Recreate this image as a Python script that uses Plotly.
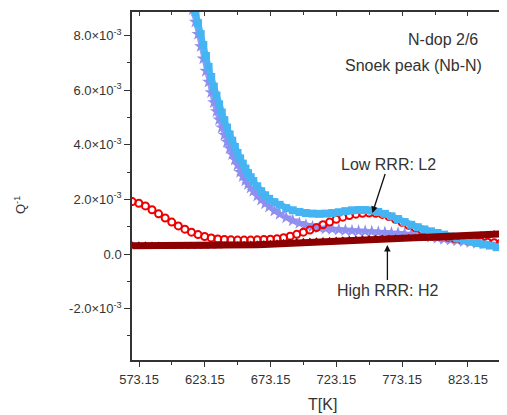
import plotly.graph_objects as go

# ---- data ----
T_red = [568, 573, 578, 583, 588, 593, 598, 603, 608, 613, 618, 623, 628, 633, 638, 643, 648, 653, 658, 663,
         668, 673, 678, 683, 688, 693, 698, 703, 708, 713, 718, 723, 728, 733, 738, 743, 748, 753, 758, 763,
         768, 773, 778, 783, 788, 793, 798, 803, 808, 813, 818, 823, 828, 833, 838, 843, 848, 853]
Q_red = [1.92, 1.86, 1.76, 1.62, 1.47, 1.32, 1.17, 1.03, 0.91, 0.80, 0.71, 0.64, 0.59, 0.55, 0.53, 0.52, 0.51, 0.51, 0.51, 0.52,
         0.53, 0.54, 0.56, 0.60, 0.65, 0.72, 0.80, 0.88, 0.97, 1.07, 1.17, 1.27, 1.35, 1.41, 1.46, 1.49, 1.50, 1.49, 1.45, 1.37,
         1.27, 1.16, 1.05, 0.96, 0.88, 0.80, 0.72, 0.66, 0.61, 0.57, 0.53, 0.50, 0.47, 0.45, 0.43, 0.41, 0.40, 0.39]

T_dark = T_red
Q_dark = [0.30, 0.30, 0.30, 0.29, 0.29, 0.28, 0.28, 0.28, 0.28, 0.28, 0.28, 0.28, 0.29, 0.29, 0.30, 0.30, 0.31, 0.32, 0.33, 0.34,
          0.35, 0.36, 0.38, 0.39, 0.40, 0.42, 0.43, 0.44, 0.45, 0.46, 0.47, 0.48, 0.49, 0.50, 0.51, 0.52, 0.53, 0.54, 0.55, 0.55,
          0.56, 0.56, 0.57, 0.57, 0.57, 0.58, 0.58, 0.59, 0.60, 0.61, 0.62, 0.63, 0.65, 0.67, 0.69, 0.71, 0.73, 0.75]

T_blue = [614, 616, 618, 620, 622, 624, 626, 628, 630, 632, 634, 636, 638, 640, 642, 644, 646, 648, 650, 652,
          654, 656, 658, 660, 663, 666, 669, 672, 676, 680, 685, 690, 695, 700, 705, 710, 715, 720, 725, 730,
          735, 740, 745, 750, 755, 760, 765, 770, 775, 780, 785, 790, 795, 800, 805, 810, 815, 820, 825, 830,
          835, 840, 845, 850, 853]
Q_blue = [9.30, 8.85, 8.45, 8.05, 7.65, 7.25, 6.85, 6.48, 6.13, 5.80, 5.48, 5.18, 4.90, 4.63, 4.38, 4.15, 3.92, 3.70, 3.50, 3.31,
          3.13, 2.96, 2.81, 2.67, 2.48, 2.30, 2.15, 2.02, 1.90, 1.80, 1.68, 1.60, 1.54, 1.50, 1.48, 1.47, 1.48, 1.50, 1.53, 1.57,
          1.60, 1.61, 1.61, 1.59, 1.54, 1.47, 1.38, 1.28, 1.17, 1.07, 0.98, 0.90, 0.83, 0.77, 0.71, 0.64, 0.57, 0.51, 0.45, 0.40,
          0.35, 0.31, 0.25, 0.19, 0.16]

T_lav = [612, 614, 616, 618, 620, 622, 624, 626, 628, 630, 632, 634, 636, 638, 640, 642, 644, 646, 648, 650,
         652, 654, 656, 658, 660, 663, 666, 669, 672, 676, 680, 685, 690, 695, 700, 705, 710, 715, 720, 725,
         730, 735, 740, 745, 750, 755, 760, 765, 770, 775, 780, 785, 790, 795, 800, 805, 810, 815, 820, 825,
         830, 835, 840, 845, 850, 853]
Q_lav = [9.40, 8.95, 8.50, 8.05, 7.60, 7.15, 6.70, 6.30, 5.92, 5.55, 5.22, 4.92, 4.63, 4.36, 4.10, 3.87, 3.65, 3.45, 3.26, 3.00,
         2.84, 2.69, 2.55, 2.42, 2.30, 2.13, 1.98, 1.85, 1.73, 1.58, 1.46, 1.33, 1.22, 1.13, 1.06, 1.00, 0.96, 0.93, 0.91, 0.89,
         0.87, 0.85, 0.84, 0.83, 0.82, 0.80, 0.79, 0.77, 0.76, 0.74, 0.72, 0.69, 0.66, 0.62, 0.58, 0.55, 0.52, 0.49, 0.46, 0.43,
         0.40, 0.38, 0.35, 0.33, 0.31, 0.30]

y_tickvals = [-2.0, 0.0, 2.0, 4.0, 6.0, 8.0]
y_ticktext = ["-2.0×10<sup>-3</sup>", "0.0", "2.0×10<sup>-3</sup>", "4.0×10<sup>-3</sup>",
              "6.0×10<sup>-3</sup>", "8.0×10<sup>-3</sup>"]
y_minor = [-3.0, -1.0, 1.0, 3.0, 5.0, 7.0]
x_tickvals = [573.15, 623.15, 673.15, 723.15, 773.15, 823.15]
x_minor = [598.15, 648.15, 698.15, 748.15, 798.15, 848.15]

FONT = "Liberation Sans, Arial, sans-serif"
AX = "#333333"

fig = go.Figure()
fig.add_trace(go.Scatter(x=T_lav, y=Q_lav, mode="lines+markers", line=dict(color="#9c9cf3", width=5),
                         marker=dict(symbol="star", size=10, color="#8f8ff0", line=dict(width=0))))
fig.add_trace(go.Scatter(x=T_red, y=Q_red, mode="markers",
                         marker=dict(symbol="circle-open", size=7, color="#ee0000", line=dict(width=2))))
fig.add_trace(go.Scatter(x=T_blue, y=Q_blue, mode="lines+markers", line=dict(color="#4ab6f4", width=6),
                         marker=dict(symbol="square", size=8, color="#45b4f3", line=dict(width=0))))
fig.add_trace(go.Scatter(x=T_dark, y=Q_dark, mode="lines+markers", line=dict(color="#8b0000", width=7),
                         marker=dict(symbol="triangle-up", size=9, color="#8b0000", line=dict(width=0))))
# dummy trace for mirrored (inside) ticks on top/right
fig.add_trace(go.Scatter(x=[700], y=[0], xaxis="x2", yaxis="y2", mode="markers",
                         marker=dict(opacity=0), hoverinfo="skip"))

xr = [567.8, 852.8]
yr = [-3.88, 8.86]

fig.update_layout(
    width=507, height=415,
    margin=dict(l=124, r=8, t=4, b=63, autoexpand=False),
    paper_bgcolor="white", plot_bgcolor="white",
    showlegend=False,
    font=dict(family=FONT, size=13, color=AX),
    xaxis=dict(range=xr, tickvals=x_tickvals, tickformat=".2f", ticks="outside", ticklen=5, tickwidth=1.2,
               tickcolor=AX, showline=True, linecolor=AX, linewidth=1.5, showgrid=False, zeroline=False,
               automargin=False, ticklabelstandoff=2,
               minor=dict(tickvals=x_minor, ticks="outside", ticklen=3, tickcolor=AX, tickwidth=1),
               tickfont=dict(size=13, color=AX)),
    yaxis=dict(range=yr, tickvals=y_tickvals, ticktext=y_ticktext, ticks="outside", ticklen=6, tickwidth=1.2,
               tickcolor=AX, showline=True, linecolor=AX, linewidth=1.5, showgrid=False, zeroline=False,
               automargin=False,
               minor=dict(tickvals=y_minor, ticks="outside", ticklen=3, tickcolor=AX, tickwidth=1),
               tickfont=dict(size=13, color=AX)),
    xaxis2=dict(range=xr, overlaying="x", side="top", anchor="y2", tickvals=x_tickvals, ticks="inside",
                ticklen=4, tickcolor=AX, tickwidth=1.2, showticklabels=False, showline=True, linecolor=AX,
                linewidth=1.5, showgrid=False, zeroline=False, automargin=False,
                minor=dict(tickvals=x_minor, ticks="inside", ticklen=3, tickcolor=AX, tickwidth=1)),
    yaxis2=dict(range=yr, overlaying="y", side="right", anchor="x2", tickvals=y_tickvals, ticks="inside",
                ticklen=5, tickcolor=AX, tickwidth=1.2, showticklabels=False, showline=False,
                showgrid=False, zeroline=False, automargin=False,
                minor=dict(tickvals=y_minor, ticks="inside", ticklen=3, tickcolor=AX, tickwidth=1)),
)

# axis titles
fig.add_annotation(x=0, y=0.4454, xref="paper", yref="paper", xshift=-112, text="Q<sup>-1</sup>",
                   textangle=-90, showarrow=False, xanchor="center", yanchor="middle",
                   font=dict(size=13, color=AX))
fig.add_annotation(x=0.507, y=0, xref="paper", yref="paper", yshift=-44.5, text="T[K]",
                   showarrow=False, xanchor="center", yanchor="middle", font=dict(size=16, color=AX))

fig.add_annotation(x=1.0, y=0.922, xref="paper", yref="paper", xshift=-27, text="N-dop 2/6",
                   showarrow=False, xanchor="right", yanchor="middle", font=dict(size=16, color=AX))
fig.add_annotation(x=1.0, y=0.845, xref="paper", yref="paper", xshift=-23, text="Snoek peak (Nb-N)",
                   showarrow=False, xanchor="right", yanchor="middle", font=dict(size=16, color=AX))
fig.add_annotation(x=750.5, y=1.5, text="Low RRR: L2", showarrow=True, ax=16, ay=-49,
                   arrowhead=2, arrowsize=1, arrowwidth=1.3, arrowcolor="#111111",
                   font=dict(size=16, color=AX))
fig.add_annotation(x=761.9, y=0.33, text="High RRR: H2", showarrow=True, ax=0, ay=45,
                   arrowhead=2, arrowsize=1, arrowwidth=1.3, arrowcolor="#111111",
                   font=dict(size=16, color=AX))

fig.write_html("out.html")
